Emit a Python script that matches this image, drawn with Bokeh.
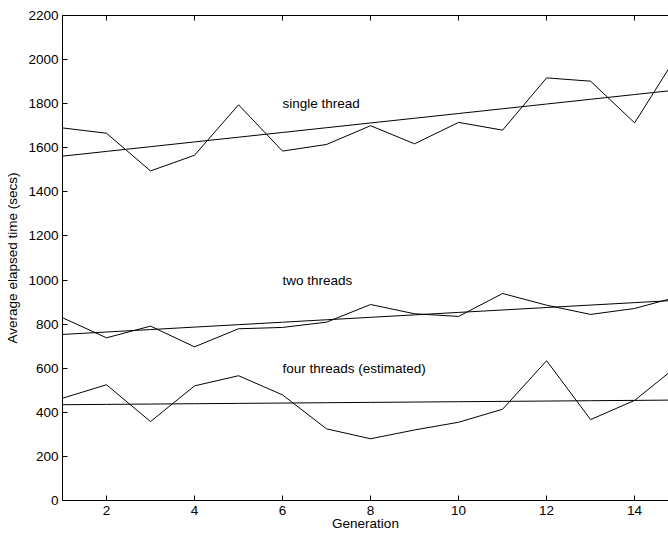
import numpy as np
from bokeh.plotting import figure
from bokeh.models import LinearAxis, FixedTicker, Range1d
from bokeh.core.properties import value
from bokeh.embed import file_html
from bokeh.resources import INLINE

generation = list(range(1, 16))
single_thread = [1690, 1666, 1495, 1566, 1795, 1585, 1615, 1700, 1618, 1715, 1680, 1917, 1902, 1713, 2030]
two_threads = [829, 738, 791, 697, 779, 785, 809, 889, 847, 835, 939, 886, 844, 871, 925]
four_threads = [464, 525, 358, 520, 566, 479, 325, 280, 320, 355, 414, 634, 367, 454, 615]

label_x = [6, 6, 6]
label_y = [1800, 1000, 600]
label_text = ["single thread", "two threads", "four threads (estimated)"]

x_ticks = [2, 4, 6, 8, 10, 12, 14]
y_ticks = list(range(0, 2201, 200))

FONT = "Liberation Sans"
FS = "13.5px"

p = figure(width=668, height=534, x_range=Range1d(1, 14.77), y_range=Range1d(0, 2200),
           output_backend="svg", toolbar_location=None,
           min_border_left=62, min_border_right=0, min_border_top=15, min_border_bottom=34)
p.outline_line_color = None
p.xgrid.visible = False
p.ygrid.visible = False
p.background_fill_color = "white"
p.border_fill_color = "white"

x = np.array(generation, dtype=float)
for series in (single_thread, two_threads, four_threads):
    y = np.array(series, dtype=float)
    p.line(x, y, line_color="black", line_width=1)
    m, b = np.polyfit(x, y, 1)
    p.line(x, m * x + b, line_color="black", line_width=1)

p.text(x=label_x, y=label_y, text=label_text, text_font=value(FONT), text_font_size=FS,
       text_baseline="middle", text_align="left", text_color="black")

for ax in (p.xaxis[0], p.yaxis[0]):
    ax.major_tick_in = 5
    ax.major_tick_out = 0
    ax.minor_tick_line_color = None
    ax.axis_line_color = "black"
    ax.major_tick_line_color = "black"
    ax.major_label_text_font = FONT
    ax.major_label_text_font_size = FS
    ax.major_label_text_color = "black"
    ax.axis_label_text_font = FONT
    ax.axis_label_text_font_size = FS
    ax.axis_label_text_font_style = "normal"
    ax.axis_label_text_color = "black"

p.xaxis[0].ticker = FixedTicker(ticks=x_ticks)
p.yaxis[0].ticker = FixedTicker(ticks=y_ticks)
p.xaxis[0].major_label_standoff = 5
p.yaxis[0].major_label_standoff = 4

p.yaxis[0].axis_label = "Average elapsed time (secs)"
p.yaxis[0].axis_label_standoff = 5
p.xaxis[0].axis_label = "Generation"
p.xaxis[0].axis_label_standoff = -2

top = LinearAxis(ticker=FixedTicker(ticks=x_ticks),
                 major_label_overrides={t: "" for t in x_ticks},
                 major_label_text_font_size="6px",
                 major_tick_in=5, major_tick_out=0, major_label_standoff=0,
                 minor_tick_line_color=None, axis_line_color="black")
p.add_layout(top, "above")

open("out.html", "w").write(file_html(p, INLINE))
